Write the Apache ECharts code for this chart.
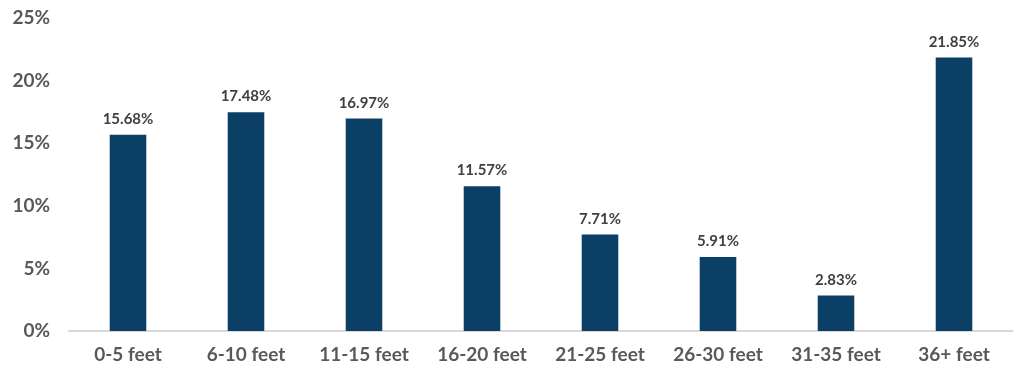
<!DOCTYPE html>
<html>
<head>
<meta charset="utf-8">
<script src="https://cdn.jsdelivr.net/npm/echarts@6/dist/echarts.min.js"></script>
<style>
  html, body { margin: 0; padding: 0; background: #ffffff; }
  #chart { width: 1013px; height: 369px; }
</style>
</head>
<body>
<div id="chart"></div>
<script>
// Share of records by height band
const categories = ['0-5 feet', '6-10 feet', '11-15 feet', '16-20 feet', '21-25 feet', '26-30 feet', '31-35 feet', '36+ feet'];
const shares = [15.68, 17.48, 16.97, 11.57, 7.71, 5.91, 2.83, 21.85];
const yTicks = [0, 5, 10, 15, 20, 25];

const font = 'Lato, "Open Sans", sans-serif';
const chart = echarts.init(document.getElementById('chart'));
chart.setOption({
  animation: false,
  grid: { left: 69, right: -12, top: 18, bottom: 38, containLabel: false },
  xAxis: {
    type: 'category',
    data: categories,
    axisLine: { lineStyle: { color: '#d9d9d9', width: 2 } },
    axisTick: { show: false },
    axisLabel: { color: '#595959', fontSize: 19, fontWeight: 'bold', fontFamily: font, margin: 14 }
  },
  yAxis: {
    type: 'value',
    min: yTicks[0],
    max: yTicks[yTicks.length - 1],
    interval: 5,
    splitLine: { show: false },
    axisLine: { show: false },
    axisTick: { show: false },
    axisLabel: {
      color: '#595959', fontSize: 19, fontWeight: 'bold', fontFamily: font, margin: 19,
      formatter: v => v + '%'
    }
  },
  series: [{
    type: 'bar',
    data: shares,
    barWidth: '31%',
    itemStyle: { color: '#0c3f66' },
    label: {
      show: true,
      position: 'top',
      distance: 8,
      color: '#404040',
      fontSize: 15,
      fontWeight: 'bold',
      fontFamily: font,
      formatter: p => p.value.toFixed(2) + '%'
    }
  }]
});
</script>
</body>
</html>
